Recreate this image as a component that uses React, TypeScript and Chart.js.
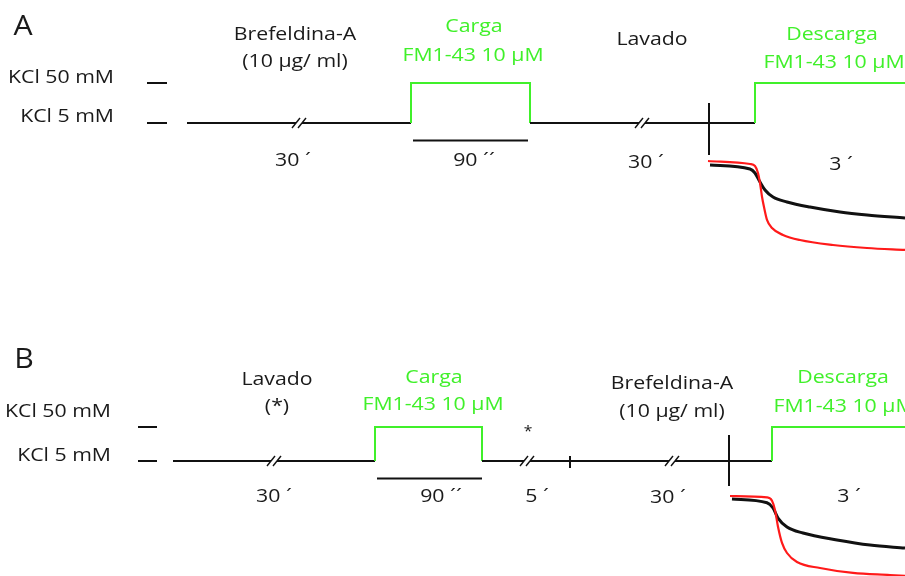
import React, { useEffect, useRef } from "react";
import { Chart, registerables } from "chart.js";
Chart.register(...registerables);

const W = 905;
const H = 576;
const GREEN = "#40f02a";
const BLACK = "#111111";
const RED = "#ff1a1a";
const FONT = "'Open Sans', 'Noto Sans', sans-serif";

// ---- Protocol (schematic time axis) and KCl level in mM ----
const protocolA_x = [187, 411, 411, 530, 530, 755, 755, 905];
const protocolA_kcl = [5, 5, 50, 50, 5, 5, 50, 50];
const protocolB_x = [173, 375, 375, 482, 482, 772, 772, 905];
const protocolB_kcl = [5, 5, 50, 50, 5, 5, 50, 50];

// KCl reference dashes
const kclDashA_x = [147, 167];
const kclDashB_x = [138, 157];
const kclLevels = [50, 5];

// Loading pulse span (underline) and markers
const loadA = [413, 528];
const loadB = [377, 482];
const breaksA = [299, 642];
const breaksB = [274, 527, 672];
const ticksA = [709];
const ticksB = [570, 729];

// ---- Fluorescence traces (normalised F) ----
const redA_x = [708, 750, 755, 758, 760, 762, 764, 767, 772, 783, 800, 833, 867, 905];
const redA_f = [1.0, 0.98, 0.967, 0.92, 0.853, 0.762, 0.693, 0.607, 0.553, 0.507, 0.473, 0.44, 0.42, 0.407];
const blackA_x = [710, 750, 755, 760, 765, 773, 787, 810, 840, 867, 905];
const blackA_f = [0.973, 0.947, 0.92, 0.86, 0.807, 0.76, 0.727, 0.693, 0.66, 0.64, 0.62];
const redB_x = [730, 767, 772, 775, 778, 782, 787, 797, 820, 853, 890, 905];
const redB_f = [1.0, 0.991, 0.969, 0.907, 0.795, 0.687, 0.62, 0.56, 0.52, 0.487, 0.473, 0.467];
const blackB_x = [732, 767, 773, 778, 787, 803, 837, 870, 905];
const blackB_f = [0.98, 0.955, 0.92, 0.853, 0.793, 0.753, 0.707, 0.673, 0.653];

// ---- Text labels ----
type Label = { t: string; x: number; y: number; c?: string; s?: number; a?: CanvasTextAlign };
const labelsA: Label[] = [
  { t: "A", x: 23, y: 35, s: 27 },
  { t: "KCl 50 mM", x: 114, y: 83, a: "right" },
  { t: "KCl 5 mM", x: 114, y: 122, a: "right" },
  { t: "Brefeldina-A", x: 295, y: 40 },
  { t: "(10 \u00b5g/ ml)", x: 295, y: 67 },
  { t: "Carga", x: 474, y: 32, c: GREEN },
  { t: "FM1-43 10 \u00b5M", x: 473, y: 61, c: GREEN },
  { t: "Lavado", x: 652, y: 45 },
  { t: "Descarga", x: 832, y: 40, c: GREEN },
  { t: "FM1-43 10 \u00b5M", x: 834, y: 68, c: GREEN },
  { t: "30 \u00b4", x: 293, y: 166 },
  { t: "90 \u00b4\u00b4", x: 474, y: 166 },
  { t: "30 \u00b4", x: 646, y: 168 },
  { t: "3 \u00b4", x: 841, y: 170 },
];
const labelsB: Label[] = [
  { t: "B", x: 24, y: 368, s: 27 },
  { t: "KCl 50 mM", x: 111, y: 417, a: "right" },
  { t: "KCl 5 mM", x: 111, y: 461, a: "right" },
  { t: "Lavado", x: 277, y: 385 },
  { t: "(*)", x: 277, y: 412 },
  { t: "Carga", x: 434, y: 383, c: GREEN },
  { t: "FM1-43 10 \u00b5M", x: 433, y: 410, c: GREEN },
  { t: "*", x: 528, y: 436, s: 14 },
  { t: "Brefeldina-A", x: 672, y: 389 },
  { t: "(10 \u00b5g/ ml)", x: 672, y: 417 },
  { t: "Descarga", x: 843, y: 383, c: GREEN },
  { t: "FM1-43 10 \u00b5M", x: 844, y: 412, c: GREEN },
  { t: "30 \u00b4", x: 274, y: 502 },
  { t: "90 \u00b4\u00b4", x: 441, y: 502 },
  { t: "5 \u00b4", x: 537, y: 502 },
  { t: "30 \u00b4", x: 668, y: 503 },
  { t: "3 \u00b4", x: 849, y: 502 },
];

// axis range so that refValue sits at refPx with pxPerUnit scaling
function axisRange(refValue: number, refPx: number, pxPerUnit: number) {
  return {
    min: refValue - (H - refPx) / pxPerUnit,
    max: refValue + refPx / pxPerUnit,
  };
}

const zip = (xs: number[], ys: number[]) => xs.map((x, i) => ({ x, y: ys[i] }));

const decorPlugin = {
  id: "decor",
  afterDatasetsDraw(chart: any) {
    const ctx: CanvasRenderingContext2D = chart.ctx;
    const xs = chart.scales.x;
    const panels = [
      { y: chart.scales.yA, breaks: breaksA, ticks: ticksA, tickUp: [20], tickDown: [32], load: loadA, labels: labelsA },
      { y: chart.scales.yB, breaks: breaksB, ticks: ticksB, tickUp: [5, 26], tickDown: [7, 25], load: loadB, labels: labelsB },
    ];
    ctx.save();
    for (const p of panels) {
      const by = p.y.getPixelForValue(5);
      // break marks
      for (const bx of p.breaks) {
        const px = xs.getPixelForValue(bx);
        ctx.fillStyle = "#fff";
        ctx.fillRect(px - 3, by - 3, 6, 6);
        ctx.strokeStyle = BLACK;
        ctx.lineWidth = 1.4;
        for (const o of [-3, 3]) {
          ctx.beginPath();
          ctx.moveTo(px + o - 4, by + 5);
          ctx.lineTo(px + o + 4, by - 5);
          ctx.stroke();
        }
      }
      // vertical ticks
      p.ticks.forEach((tx, i) => {
        const px = xs.getPixelForValue(tx);
        ctx.strokeStyle = BLACK;
        ctx.lineWidth = 2;
        ctx.beginPath();
        ctx.moveTo(px, by - p.tickUp[i]);
        ctx.lineTo(px, by + p.tickDown[i]);
        ctx.stroke();
      });
      // load underline
      ctx.strokeStyle = BLACK;
      ctx.lineWidth = 2;
      ctx.beginPath();
      ctx.moveTo(xs.getPixelForValue(p.load[0]), by + 17.5);
      ctx.lineTo(xs.getPixelForValue(p.load[1]), by + 17.5);
      ctx.stroke();
      // labels
      for (const l of p.labels) {
        ctx.save();
        ctx.translate(l.x, l.y);
        ctx.scale(1.12, 1);
        ctx.font = `${l.s || 19}px ${FONT}`;
        ctx.fillStyle = l.c || "#1a1a1a";
        ctx.textAlign = l.a || "center";
        ctx.textBaseline = "alphabetic";
        ctx.fillText(l.t, 0, 0);
        ctx.restore();
      }
    }
    ctx.restore();
  },
};

export default function App() {
  const ref = useRef<HTMLCanvasElement>(null);
  useEffect(() => {
    if (!ref.current) return;
    const stepSeg = {
      borderColor: (c: any) => (c.p0.parsed.y === 50 || c.p1.parsed.y === 50 ? GREEN : BLACK),
    };
    const base = { pointRadius: 0, fill: false, tension: 0 };
    const chart = new Chart(ref.current, {
      type: "line",
      data: {
        datasets: [
          { ...base, data: zip(redA_x, redA_f), yAxisID: "yAF", borderColor: RED, borderWidth: 2.2, cubicInterpolationMode: "monotone", order: 0 },
          { ...base, data: zip(blackA_x, blackA_f), yAxisID: "yAF", borderColor: BLACK, borderWidth: 3, cubicInterpolationMode: "monotone", order: 1 },
          { ...base, data: zip(redB_x, redB_f), yAxisID: "yBF", borderColor: RED, borderWidth: 2.2, cubicInterpolationMode: "monotone", order: 0 },
          { ...base, data: zip(blackB_x, blackB_f), yAxisID: "yBF", borderColor: BLACK, borderWidth: 3, cubicInterpolationMode: "monotone", order: 1 },
          { ...base, data: zip(protocolA_x, protocolA_kcl), yAxisID: "yA", borderColor: BLACK, borderWidth: 2, segment: stepSeg, order: 2 },
          { ...base, data: zip(protocolB_x, protocolB_kcl), yAxisID: "yB", borderColor: BLACK, borderWidth: 2, segment: stepSeg, order: 2 },
          ...kclLevels.map((lv) => ({ ...base, data: zip(kclDashA_x, [lv, lv]), yAxisID: "yA", borderColor: BLACK, borderWidth: 2, order: 3 })),
          ...kclLevels.map((lv) => ({ ...base, data: zip(kclDashB_x, [lv, lv]), yAxisID: "yB", borderColor: BLACK, borderWidth: 2, order: 3 })),
        ] as any,
      },
      options: {
        animation: false,
        responsive: false,
        maintainAspectRatio: false,
        layout: { padding: 0 },
        plugins: { legend: { display: false }, tooltip: { enabled: false } },
        events: [],
        scales: {
          x: { type: "linear", min: 0, max: W, display: false },
          yA: { type: "linear", display: false, ...axisRange(5, 123, 40 / 45) },
          yB: { type: "linear", display: false, ...axisRange(5, 461, 34 / 45) },
          yAF: { type: "linear", display: false, ...axisRange(1, 161, 150) },
          yBF: { type: "linear", display: false, ...axisRange(1, 496, 150) },
        },
      },
      plugins: [decorPlugin],
    });
    return () => chart.destroy();
  }, []);
  return (
    <div style={{ position: "absolute", left: 0, top: 0, width: W, height: H, background: "#fff" }}>
      <canvas ref={ref} width={W} height={H} style={{ display: "block", width: W, height: H }} />
    </div>
  );
}
